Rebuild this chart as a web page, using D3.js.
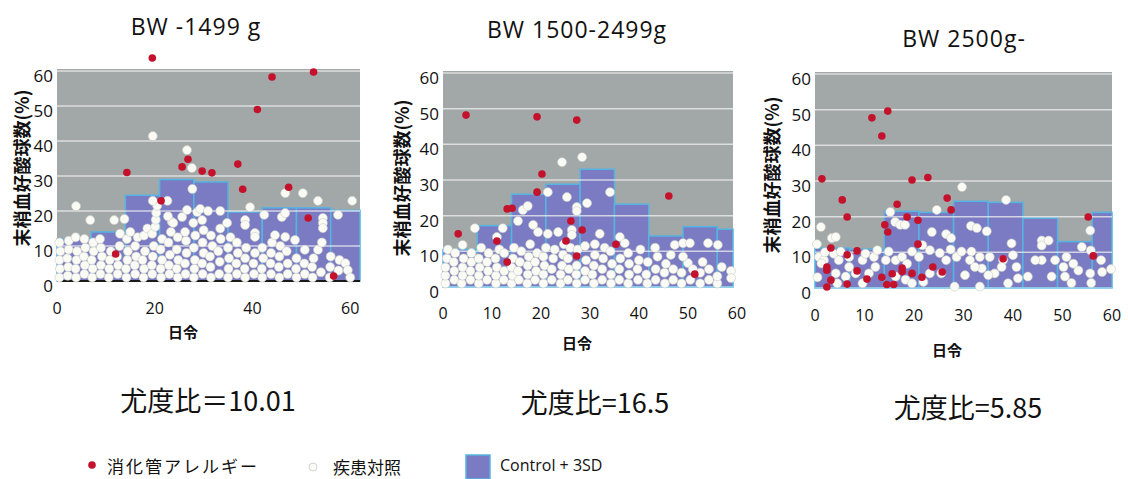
<!DOCTYPE html>
<html>
<head>
<meta charset="utf-8">
<script src="https://cdn.jsdelivr.net/npm/d3@7"></script>
<style>
  body { margin: 0; background: #fff; }
  text { font-family: "Open Sans", "Noto Sans CJK JP", sans-serif; fill: #111; }
  .jp { font-family: "Noto Sans CJK JP", sans-serif; }
</style>
</head>
<body>
<script>
// ---- data ----
let titles = ["BW -1499 g", "BW 1500-2499g", "BW 2500g-"]
let ratios = ["尤度比＝10.01", "尤度比=16.5", "尤度比=5.85"]
let yTicks = [0, 10, 20, 30, 40, 50, 60]
let xTicks1 = [0, 20, 40, 60]
let xTicks23 = [0, 10, 20, 30, 40, 50, 60]
let binEdges = [0, 7, 14, 21, 28, 35, 42, 49, 56, 63]

// Control + 3SD per week of age
let bars1 = [12, 14, 24.5, 29, 28.3, 19.7, 20.9, 20.9, 20.2]
let bars2 = [10.5, 17.2, 26, 28.8, 33, 23.2, 14.3, 16.9, 16.2]
let bars3 = [11.2, 10.9, 21.5, 21.2, 24.3, 24, 19.6, 13, 21.2]

// 消化管アレルギー [day, %]
let red1 = [[19.5,63.7],[14.3,31],[12,7.7],[21.3,22.9],[25.6,32.6],[26.8,34.8],[29.7,31.4],[31.7,30.9],
  [37,33.4],[38,26.2],[41,49],[44,58.3],[47.4,26.8],[52.5,59.7],[51.4,18],[56.6,1.4]]
let red2 = [[4.7,48.2],[19.2,47.7],[27.3,46.8],[20.2,31.7],[19.2,26.6],[13.1,21.9],[14.1,22.1],[3.1,14.9],
  [11,12.9],[13.1,7],[26.1,18.5],[25.1,12.9],[28.4,16],[27.3,8.7],[35.3,12],[46.1,25.5],[51.4,3.6]]
let red3 = [[1.4,30.6],[11.5,47.7],[13.5,42.6],[14.7,49.6],[5.5,24.7],[6.5,19.9],[3.2,11.2],[8.5,10.4],
  [6.5,9.3],[2.4,5.9],[2.4,5],[3.2,2.2],[2.4,0.3],[6.5,1.1],[8.5,4.8],[10.5,2.5],[14.1,17.7],[14.7,15.7],
  [16.6,23.5],[18.6,19.9],[19.6,30.3],[20.8,19],[20.8,12.3],[22.8,31],[26.7,25.2],[27.5,21.9],[23.8,5.9],
  [25.7,4.5],[21.6,3],[19.6,4.1],[17.6,5.6],[17.6,4.6],[15.6,4],[14.5,1],[15.9,1],[13.5,3],[38,8.2],
  [55.2,19.9],[56.2,9]]

// 疾患対照 [day, %]
let white1 = [
  [0.5,1],[0.6,3.5],[0.5,6],[0.7,8.5],[0.5,11],[2.2,1.5],[2.3,4],[2.1,6.5],[2.4,9],[2.4,11.5],
  [3.9,1],[3.8,3.5],[4,6],[4.1,8.5],[3.8,12.5],[3.9,21.4],[5.6,2],[5.7,4.5],[5.5,7],[5.8,9.5],[5.6,12],
  [7.2,1],[7.3,3.5],[7.1,6],[7.5,8.5],[7.4,11],[6.8,17.4],[8.9,2],[9,4.5],[9.2,7],[9,9.5],[8.8,12],
  [10.6,1],[10.7,3.5],[10.8,6],[11,8.5],[11.7,17.4],[12.4,2],[12.5,4.5],[12.3,7],[12.8,10],[12.9,13.5],[13.8,17.7],
  [14.2,1],[14.1,3.5],[14.4,6],[14.5,8.5],[14.3,12],[15,14],[16,2],[15.9,4.5],[16.2,7],[16,10],[16.5,12.5],
  [17.7,1],[17.8,3.5],[17.5,6],[18,8.5],[17.8,13],[18.5,15],[19.5,2],[19.4,4.5],[19.6,7],[19.8,10],[19.5,13.5],
  [20.1,15.5],[20.2,17.5],[20.3,19.5],[20.5,21.5],[19.6,22.9],[19.6,41.4],
  [21.3,1],[21.2,3.5],[21.5,6],[21.2,9],[21.5,12],[23,2],[22.9,4.5],[23.1,7.5],[22.8,11],[23.3,14],[23.5,16.9],
  [22.7,18.5],[22.6,22.9],[24.7,1],[24.5,3.5],[24.8,6],[24.5,9],[24.7,12.5],[23.8,16.6],[25.6,18.3],
  [26.3,2],[26.2,5],[26.5,8],[26.4,11.5],[26.2,14],[26.6,20.3],[26.6,37.4],[27.7,26.3],[27.6,32.3],[27.9,16.6],
  [28,1],[28.1,3.5],[28.2,6],[28,9.5],[28.3,13],[28.7,19.7],[29.8,2],[29.7,5],[30,8],[29.8,11],[30,14.5],
  [29.7,17.4],[29.3,20.6],[31.5,1],[31.4,4],[31.3,7],[31.8,10],[31.5,13],[30.9,20],
  [33.2,2],[33.3,5.5],[33,8.5],[33.5,12],[33.4,15],[33.4,20],[34.8,16.6],
  [35,1],[35.1,3.5],[35.2,6.5],[35,9.5],[35.5,12.5],[36.8,2],[36.7,5],[37,8],[36.8,11],
  [38.5,1],[38.4,3.5],[38.5,6.5],[38.7,9.5],[38.5,17.4],[38.5,16],[39.5,21.1],
  [40.3,2],[40.2,5],[40.5,8],[40.5,13.7],[40.5,12.6],[42,1],[41.9,3.5],[42.2,6.5],[42,9.5],[42.4,18.9],
  [43.8,2],[43.7,5],[43.8,8],[44,11],[44.6,13.1],[45.5,1],[45.4,4],[45.5,7],[45.7,10],[46,18.3],[46.7,19.4],
  [46.7,25.1],[47.2,2],[47.2,5],[47,8.5],[46.7,12.6],[48.7,11.7],[49,1],[48.9,3.5],[49,6.5],
  [50.7,2],[50.6,5],[50.7,8.9],[50.3,25.1],[52.3,1],[52.2,4],[52.5,6.5],[53.4,8.9],[53.4,22.9],
  [54.4,18],[54.4,16.6],[54.4,15.1],[54,2.5],[54.2,11],[55.8,1],[55.9,4],[56,7],
  [57.5,18.9],[57.6,3],[57.8,6],[59,5.1],[59.5,3.1],[60.4,22.9],[60,1]
]
let white2 = [
  [0.5,1],[0.5,3.2],[0.5,5.5],[0.8,8],[1,10.5],[2.3,2],[2.3,4.5],[2.2,7],[2.5,9.5],
  [3.8,1],[4,3.2],[4,5.5],[4.2,8],[4,11.8],[5.6,2],[5.6,4.5],[5.8,7],[5.8,9.5],[6.5,16.5],
  [7.3,1],[7.3,3.2],[7.5,5.5],[7.3,8],[7.8,11],[9,2],[9.2,4.5],[9,7],[9.3,9.5],
  [10.8,1],[10.8,3.2],[11,5.5],[10.7,8],[11,14],[11.5,10.5],[12.4,2],[12.5,4.5],[12.2,16.5],[12.5,9.5],
  [14,1],[14.2,3.2],[14,5.5],[14.3,8],[14.5,11],[15.5,2],[15.3,4.5],[15.7,7],[15.3,18.5],[16,10],
  [17.2,1],[17.3,3.5],[17.3,6],[17.5,8.5],[16.3,21.6],[17.3,22.7],[17.8,12],
  [18.8,2],[19,4.5],[18.8,7],[19.2,9.5],[18.4,17.4],[19.4,15.4],
  [20.5,1],[20.5,3.5],[20.7,6],[20.5,8.5],[21,11],[21.4,14.9],[21.4,26.6],
  [22.2,2],[22.2,5],[22.5,8],[22.8,10.5],[23.5,15.4],[24.3,35],[24,1],[24,3.5],[24.3,6],[24.5,9],[24.7,12],
  [25.5,2],[25.7,5],[25.5,8],[25.3,25.2],[26.3,16],[26.3,14.6],[26,11],
  [27.3,1],[27.2,3.5],[27.3,6],[27.3,22.4],[27.3,21.3],[27.5,10.5],
  [28.4,36.4],[29,2],[29,4.5],[29.2,7.5],[29.4,23.5],[29,11.5],
  [30.8,1],[30.5,3.5],[30.8,6],[31,9],[31,12],[32,14.9],[32.5,2],[32.5,5],[32.7,8],[33,11],
  [34.1,26.6],[34.3,1],[34.3,3.5],[34.5,6.5],[34.2,10],[36.1,14],[37.1,12.3],[36,2],[36,5],[36.2,8],
  [37.8,1],[38,3.5],[38,6.5],[37.8,9.5],[39.8,2],[39.7,5],[40,7.5],[40.3,10.5],
  [41.7,1],[41.5,3.5],[41.8,7],[43.4,2],[43.4,5],[43.8,8.5],[43.3,11],
  [45.3,1],[45.2,4],[45.5,6.5],[47,2],[47,5],[47.3,11.8],[46.5,9],
  [49,12.3],[50.4,12.3],[48.7,1],[48.7,4],[50,6.7],[49,8.5],[50.5,2],[51,5],
  [52.5,1],[52.5,4],[53,7],[54.1,12.3],[54.3,2],[54.3,5],[56.1,11.8],[56.9,5.6],[56,1],[56,3],
  [58.8,4.5],[58.8,2.5]
]
let white3 = [
  [0.4,12.3],[1.2,17.1],[3.4,14],[4.2,14.3],[0.8,8.7],[1.8,7.8],[3.8,9.6],[4.8,7.8],[5.2,10.2],
  [6.9,8.7],[4.2,4.1],[6.2,3.2],[4.5,1.3],[6.9,5.9],[8.2,4.1],[9.6,7.8],[10.2,9.6],[11.9,8.7],
  [12.2,5.9],[10.9,4.1],[9.6,1.3],[12.6,10.6],[14.3,7.8],[14.9,10.2],[16.3,7.8],[17.6,8.7],
  [16.3,3.2],[18.3,2.3],[18.6,6.8],[19.6,10.2],[19.6,1.3],[21,8.7],[1.3,6.9],[0.5,3],[2,10],
  [15.2,21.3],[16.2,18.5],[17.2,17.7],[18.2,17.7],[23.6,15.7],[24.6,21.9],[26.5,15.1],[27.5,14],
  [29.7,28.3],[31.5,17.4],[32.7,16.8],[34.7,15.9],[38.6,24.7],
  [21.7,12],[23.2,10.6],[25.2,9.8],[27.4,10.8],[26.5,7.8],[28.6,8.7],[23.2,4.1],[25.5,4.1],
  [21.9,1.7],[28.2,0.4],[29.6,10.2],[31.6,10.2],[31.3,7.8],[33.3,8.7],[33.7,5.5],[33.3,0.4],
  [35.3,8.7],[36.3,4.1],[38,7.8],[39.7,12.5],[40,9.2],[40.7,5.9],[41,2.7],[39,1.3],[43,3.2],
  [45.8,13.3],[45.8,11.9],[45.8,7.8],[47.8,3.2],[48.5,7.8],[50.2,5.9],[50.5,3.2],[50.8,8.7],
  [52.2,6.8],[53.2,4.9],[53.9,11.5],[55.6,16.1],[55.7,10.5],[55.6,4.1],[58,4.5],[59.8,5.3],
  [30.3,3.6],[32.3,5.9],[35,3.6],[37.7,5.9],[44.5,7.8],[47.2,13.3],[51.8,1.4],[55.8,1.4],[57.8,7.8]
]

// ---- layout ----
let panels = [
  {left: 57, right: 360, top: 71, bottom: 281, xMax: 62, bars: bars1, red: red1, white: white1,
   xTicks: xTicks1, title: [196, 35], tickY: 314, xt: [183, 338], ratio: [208, 411], yt: [23, 168], dark: true},
  {left: 443, right: 733, top: 73, bottom: 287, xMax: 59.2, bars: bars2, red: red2, white: white2,
   xTicks: xTicks23, title: [577, 38], tickY: 319, xt: [577, 349], ratio: [595, 413], yt: [403, 178], dark: false},
  {left: 815, right: 1112, top: 74, bottom: 288, xMax: 60, bars: bars3, red: red3, white: white3,
   xTicks: xTicks23, title: [964, 47], tickY: 321, xt: [947, 356], ratio: [968, 418], yt: [773, 175], dark: false}
]

let svg = d3.select('body').append('svg')
  .attr('width', 1128)
  .attr('height', 479)

panels.forEach((p, i) => {
  let x = d3.scaleLinear().domain([0, p.xMax]).range([p.left, p.right])
  let y = d3.scaleLinear().domain([0, 60]).range([p.bottom, p.top])
  let g = svg.append('g')

  g.append('rect')
    .attr('x', x(0)).attr('y', y(60) - 2)
    .attr('width', x(p.xMax) - x(0)).attr('height', y(0) - y(60) + 2)
    .attr('fill', '#a2a7a7')

  let bins = p.bars.map((v, k) => ({x0: binEdges[k], x1: Math.min(binEdges[k + 1], p.xMax), v: v}))
  g.selectAll('.bar').data(bins).enter().append('rect')
    .attr('class', 'bar')
    .attr('x', d => x(d.x0))
    .attr('y', d => y(d.v))
    .attr('width', d => x(d.x1) - x(d.x0))
    .attr('height', d => y(0) - y(d.v))
    .attr('fill', '#7a7bc3')
    .attr('stroke', '#55b4e2')
    .attr('stroke-width', 1.5)

  g.selectAll('.grid').data(yTicks.filter(t => t > 0)).enter().append('line')
    .attr('x1', x(0)).attr('x2', x(p.xMax))
    .attr('y1', d => y(d)).attr('y2', d => y(d))
    .attr('stroke', '#f0f0f0')
    .attr('stroke-opacity', 0.75)
    .attr('stroke-width', 1.5)

  g.append('line')
    .attr('x1', x(0)).attr('x2', x(p.xMax))
    .attr('y1', y(0)).attr('y2', y(0))
    .attr('stroke', p.dark ? '#1a1a1a' : '#9fd3ea')
    .attr('stroke-width', p.dark ? 2 : 1.5)

  g.selectAll('.w').data(p.white).enter().append('circle')
    .attr('cx', d => x(d[0])).attr('cy', d => y(d[1]))
    .attr('r', 4.5)
    .attr('fill', '#fbfbf6')
    .attr('stroke', '#c9cbc6')
    .attr('stroke-width', 0.6)

  g.selectAll('.r').data(p.red).enter().append('circle')
    .attr('cx', d => x(d[0])).attr('cy', d => y(d[1]))
    .attr('r', 3.8)
    .attr('fill', '#c4122d')

  // y tick labels
  g.selectAll('.yl').data(yTicks).enter().append('text')
    .attr('x', p.left - 4).attr('y', d => y(d) + 11)
    .attr('text-anchor', 'end')
    .attr('font-size', 17)
    .text(d => d)

  // x tick labels
  g.selectAll('.xl').data(p.xTicks).enter().append('text')
    .attr('x', d => x(d)).attr('y', p.tickY)
    .attr('text-anchor', 'middle')
    .attr('font-size', 16)
    .text(d => d)

  g.append('text')
    .attr('class', 'jp')
    .attr('transform', `translate(${p.yt[0] + 6},${p.yt[1]}) rotate(-90)`)
    .attr('text-anchor', 'middle')
    .attr('font-size', 18)
    .attr('font-weight', 'bold')
    .text('末梢血好酸球数(%)')

  g.append('text')
    .attr('class', 'jp')
    .attr('x', p.xt[0]).attr('y', p.xt[1])
    .attr('text-anchor', 'middle')
    .attr('font-size', 15)
    .attr('font-weight', 'bold')
    .text('日令')

  g.append('text')
    .attr('x', p.title[0]).attr('y', p.title[1])
    .attr('text-anchor', 'middle')
    .attr('font-size', 23)
    .attr('letter-spacing', 1)
    .text(titles[i])

  g.append('text')
    .attr('class', 'jp')
    .attr('x', p.ratio[0]).attr('y', p.ratio[1])
    .attr('text-anchor', 'middle')
    .attr('font-size', 27)
    .text(ratios[i])
})

// legend
let legend = svg.append('g')
legend.append('circle').attr('cx', 92).attr('cy', 465).attr('r', 3.8).attr('fill', '#c4122d')
legend.append('text').attr('class', 'jp').attr('x', 107).attr('y', 473).attr('font-size', 17)
  .attr('letter-spacing', 2).text('消化管アレルギー')
legend.append('circle').attr('cx', 313).attr('cy', 467).attr('r', 4)
  .attr('fill', '#fbfbf6').attr('stroke', '#c9cbc6').attr('stroke-width', 0.8)
legend.append('text').attr('class', 'jp').attr('x', 333).attr('y', 474).attr('font-size', 17).text('疾患対照')
legend.append('rect').attr('x', 466).attr('y', 455).attr('width', 24).attr('height', 24)
  .attr('fill', '#7a7bc3').attr('stroke', '#55b4e2').attr('stroke-width', 1.5)
legend.append('text').attr('x', 500).attr('y', 471).attr('font-size', 16).text('Control + 3SD')
</script>
</body>
</html>
